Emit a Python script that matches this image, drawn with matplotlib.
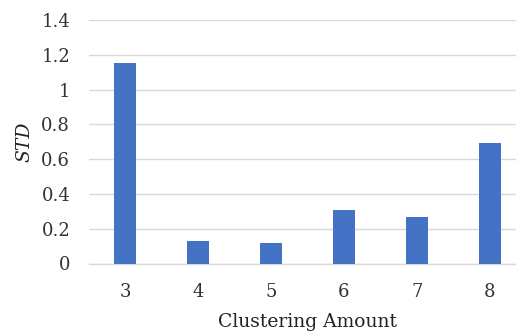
import matplotlib
matplotlib.use("Agg")
import matplotlib.pyplot as plt

categories = ["3", "4", "5", "6", "7", "8"]
std_values = [1.15, 0.13, 0.12, 0.31, 0.27, 0.69]
y_ticks = [0, 0.2, 0.4, 0.6, 0.8, 1.0, 1.2, 1.4]
y_tick_labels = ["0", "0.2", "0.4", "0.6", "0.8", "1", "1.2", "1.4"]

plt.rcParams['font.family'] = ['DejaVu Serif']

fig = plt.figure(figsize=(5.16, 3.34), dpi=100)
ax = fig.add_axes([89/516, 70.5/334, 437/516, 243.5/334])

x = list(range(len(categories)))
ax.bar(x, std_values, width=0.30, color="#4472C4", zorder=3)

ax.set_xlim(-0.5, len(categories) - 0.5)
ax.set_ylim(0, 1.4)
ax.set_yticks(y_ticks)
ax.set_yticklabels(y_tick_labels)
ax.set_xticks(x)
ax.set_xticklabels(categories)

ax.grid(axis='y', color="#d9d9d9", linewidth=1.0, zorder=0)
for s in ['top', 'right', 'left']:
    ax.spines[s].set_visible(False)
ax.spines['bottom'].set_color("#d9d9d9")
ax.spines['bottom'].set_linewidth(1.0)
ax.tick_params(axis='both', length=0, labelsize=13, colors="#333333")
ax.tick_params(axis='y', pad=13.5)
ax.tick_params(axis='x', pad=14)

ax.set_ylabel("STD", fontsize=13.5, style='italic', labelpad=6, color="#222222")
ax.set_xlabel("Clustering Amount", fontsize=13.5, labelpad=9, color="#222222")

fig.savefig("out.png", dpi=100)
